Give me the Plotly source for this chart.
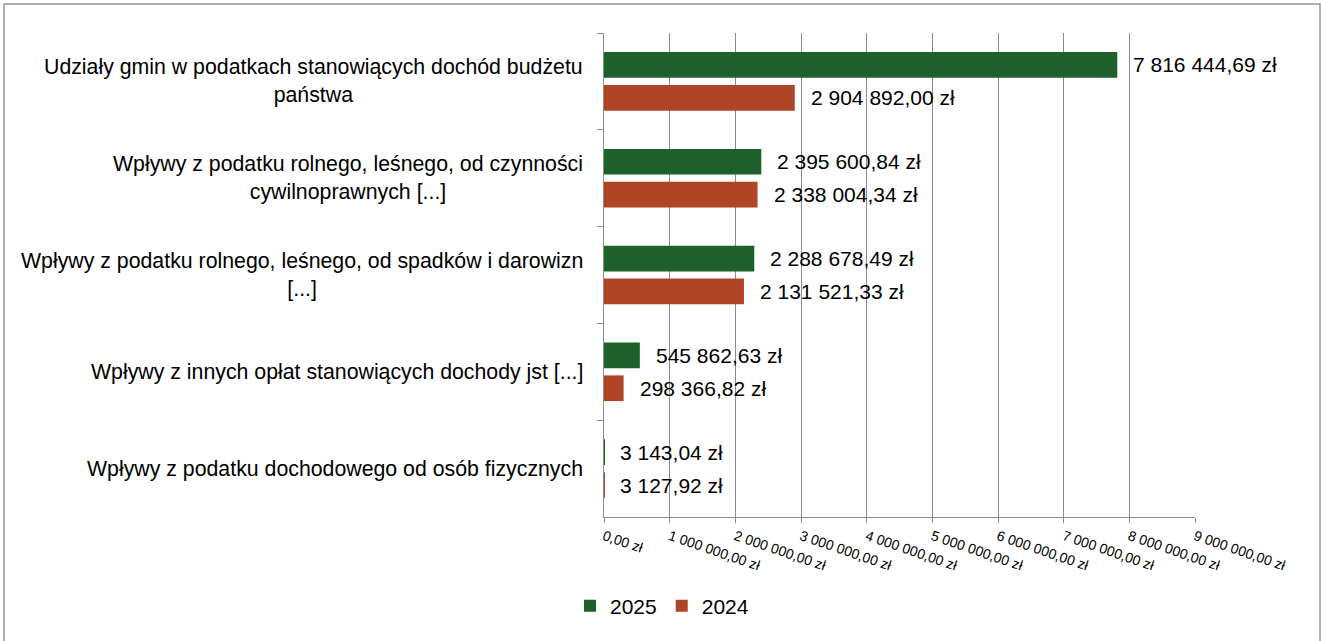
import plotly.graph_objects as go

categories = [
    "Udziały gmin w podatkach stanowiących dochód budżetu<br>państwa",
    "Wpływy z podatku rolnego, leśnego, od czynności<br>cywilnoprawnych [...]",
    "Wpływy z podatku rolnego, leśnego, od spadków i darowizn<br>[...]",
    "Wpływy z innych opłat stanowiących dochody jst [...]",
    "Wpływy z podatku dochodowego od osób fizycznych",
]
values_2025 = [7816444.69, 2395600.84, 2288678.49, 545862.63, 3143.04]
values_2024 = [2904892.00, 2338004.34, 2131521.33, 298366.82, 3127.92]
tick_values = [0, 1e6, 2e6, 3e6, 4e6, 5e6, 6e6, 7e6, 8e6, 9e6]
tick_labels = ["0,00 zł", "1 000 000,00 zł", "2 000 000,00 zł", "3 000 000,00 zł",
               "4 000 000,00 zł", "5 000 000,00 zł", "6 000 000,00 zł",
               "7 000 000,00 zł", "8 000 000,00 zł", "9 000 000,00 zł"]

GREEN = "rgb(30,96,43)"
ORANGE = "rgb(176,68,38)"
GRID = "rgb(140,140,140)"
FONT = "Liberation Sans, Arial, sans-serif"


def fmt(v):
    return f"{v:,.2f}".replace(",", " ").replace(".", ",") + " zł"


fig = go.Figure()
fig.add_trace(go.Bar(y=categories, x=values_2025, name="2025", orientation="h",
                     marker=dict(color=GREEN, line=dict(width=0))))
fig.add_trace(go.Bar(y=categories, x=values_2024, name="2024", orientation="h",
                     marker=dict(color=ORANGE, line=dict(width=0))))

W, H = 1321, 641
L, R, T, B = 604, 126, 33, 124
pw, ph = W - L - R, H - T - B

annotations = []
for cat, v25, v24 in zip(categories, values_2025, values_2024):
    annotations.append(dict(x=0, xref="paper", y=cat, yref="y", text=cat,
                            xanchor="right", yanchor="middle", xshift=-19,
                            align="center", showarrow=False,
                            font=dict(family=FONT, size=21.3, color="black")))
    annotations.append(dict(x=v25, xref="x", y=cat, yref="y", text=fmt(v25),
                            xanchor="left", yanchor="middle", xshift=14, yshift=16.5,
                            showarrow=False, font=dict(family=FONT, size=21, color="black")))
    annotations.append(dict(x=v24, xref="x", y=cat, yref="y", text=fmt(v24),
                            xanchor="left", yanchor="middle", xshift=14, yshift=-16.5,
                            showarrow=False, font=dict(family=FONT, size=21, color="black")))

fig.update_layout(
    width=W, height=H,
    margin=dict(l=L, r=R, t=T, b=B, pad=0),
    paper_bgcolor="white", plot_bgcolor="white",
    barmode="group", bargap=0.32, bargroupgap=0.22,
    font=dict(family=FONT, color="black"),
    showlegend=True,
    legend=dict(orientation="h", x=(662 - L) / pw, xanchor="center",
                y=(T + ph - 606) / ph, yanchor="middle",
                font=dict(family=FONT, size=21, color="black"),
                itemwidth=30, traceorder="normal"),
    annotations=annotations,
    shapes=[dict(type="rect", xref="paper", yref="paper",
                 x0=(4 - L) / pw, x1=(1320 - L) / pw,
                 y0=(T + ph - 660) / ph, y1=(T + ph - 4) / ph,
                 line=dict(color="rgb(150,150,150)", width=1.5), layer="below")],
)
fig.update_xaxes(range=[0, 9e6], tickvals=tick_values, ticktext=tick_labels,
                 tickangle=19, ticks="outside", ticklen=5, tickcolor=GRID,
                 showgrid=True, gridcolor=GRID, gridwidth=1,
                 showline=True, linecolor=GRID, linewidth=1, zeroline=False,
                 tickfont=dict(family=FONT, size=14, color="black"))
fig.update_yaxes(type="category", autorange="reversed", showticklabels=False,
                 ticks="outside", tickson="boundaries", ticklen=6, tickcolor=GRID,
                 showgrid=False, showline=True, linecolor=GRID, linewidth=1,
                 zeroline=False)

fig.write_html("out.html", post_script="document.body.style.margin='0';",
               config={"displayModeBar": False})
